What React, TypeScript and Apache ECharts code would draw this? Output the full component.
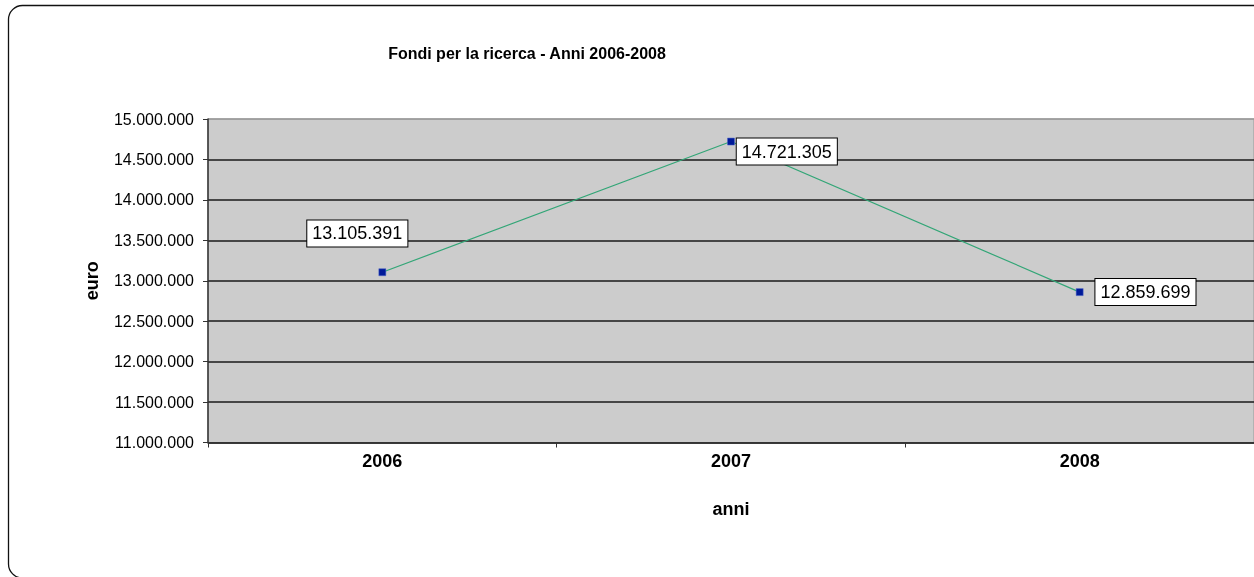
import React, { useEffect, useRef } from "react";
import * as echarts from "echarts";

const titleText = "Fondi per la ricerca - Anni 2006-2008";
const categories = ["2006", "2007", "2008"];
const values = [13105391, 14721305, 12859699];
const yMin = 11000000;
const yMax = 15000000;
const yStep = 500000;
const xName = "anni";
const yName = "euro";

const fmt = (v: number) => String(Math.round(v)).replace(/\B(?=(\d{3})+(?!\d))/g, ".");

export default function App() {
  const ref = useRef<HTMLDivElement>(null);
  useEffect(() => {
    if (!ref.current) return;
    const chart = echarts.init(ref.current, undefined, { renderer: "svg" });
    const font = "Liberation Sans, Arial, sans-serif";
    const labelBase = {
      show: true,
      formatter: (p: any) => fmt(p.value),
      fontFamily: font,
      fontSize: 18,
      color: "#000",
      backgroundColor: "#fff",
      borderColor: "#000",
      borderWidth: 1,
      padding: [3, 5, 3, 5],
      lineHeight: 20,
    };
    const labelPlacements: any[] = [
      { position: "top", distance: 22, offset: [-25, 0] },
      { position: "right", distance: 2, offset: [0, 10] },
      { position: "right", distance: 12, offset: [0, 0] },
    ];
    const splitColors: string[] = [];
    for (let v = yMin; v <= yMax; v += yStep) splitColors.push(v === yMax ? "#999" : "#1a1a1a");
    chart.setOption({
      animation: false,
      textStyle: { fontFamily: font },
      graphic: [
        {
          type: "rect",
          shape: { x: 8.5, y: 5.5, width: 1275, height: 572.5, r: 14 },
          style: { fill: "none", stroke: "#111", lineWidth: 1.3 },
          z: 100,
        },
        {
          type: "text",
          x: 527,
          y: 45,
          style: {
            text: titleText,
            font: "bold 16px Liberation Sans, Arial, sans-serif",
            fill: "#000",
            textAlign: "center",
          },
        },
      ],
      grid: {
        left: 208,
        top: 119,
        width: 1050,
        height: 323.5,
        show: true,
        backgroundColor: "#cccccc",
        borderColor: "#999",
        borderWidth: 1,
      },
      xAxis: {
        type: "category",
        data: categories,
        boundaryGap: true,
        name: xName,
        nameLocation: "middle",
        nameGap: 57,
        nameTextStyle: { fontSize: 18, fontWeight: "bold", color: "#000", fontFamily: font },
        axisLine: { lineStyle: { color: "#333", width: 1.5 } },
        axisTick: { show: true, length: 5, lineStyle: { color: "#333" } },
        axisLabel: { fontSize: 18, fontWeight: "bold", color: "#000", margin: 9, fontFamily: font },
      },
      yAxis: {
        type: "value",
        min: yMin,
        max: yMax,
        interval: yStep,
        name: yName,
        nameLocation: "middle",
        nameRotate: 90,
        nameGap: 107,
        nameTextStyle: { fontSize: 18, fontWeight: "bold", color: "#000", fontFamily: font },
        axisLine: { show: true, lineStyle: { color: "#333", width: 1.5 } },
        axisTick: { show: true, length: 5, lineStyle: { color: "#333" } },
        axisLabel: { fontSize: 16, color: "#000", margin: 14, formatter: (v: number) => fmt(v), fontFamily: font },
        splitLine: { show: true, lineStyle: { color: splitColors, width: 1.6 } },
      },
      series: [
        {
          type: "line",
          data: values.map((v, i) => ({ value: v, label: { ...labelBase, ...labelPlacements[i] } })),
          symbol: "rect",
          symbolSize: 7,
          showAllSymbol: true,
          itemStyle: { color: "#001a99", borderColor: "#4d66cc", borderWidth: 0.5 },
          lineStyle: { color: "#33a677", width: 1.2 },
          label: labelBase,
          z: 3,
        },
      ],
    });
    return () => chart.dispose();
  }, []);
  return <div ref={ref} style={{ position: "fixed", left: 0, top: 0, width: 1254, height: 577 }} />;
}
